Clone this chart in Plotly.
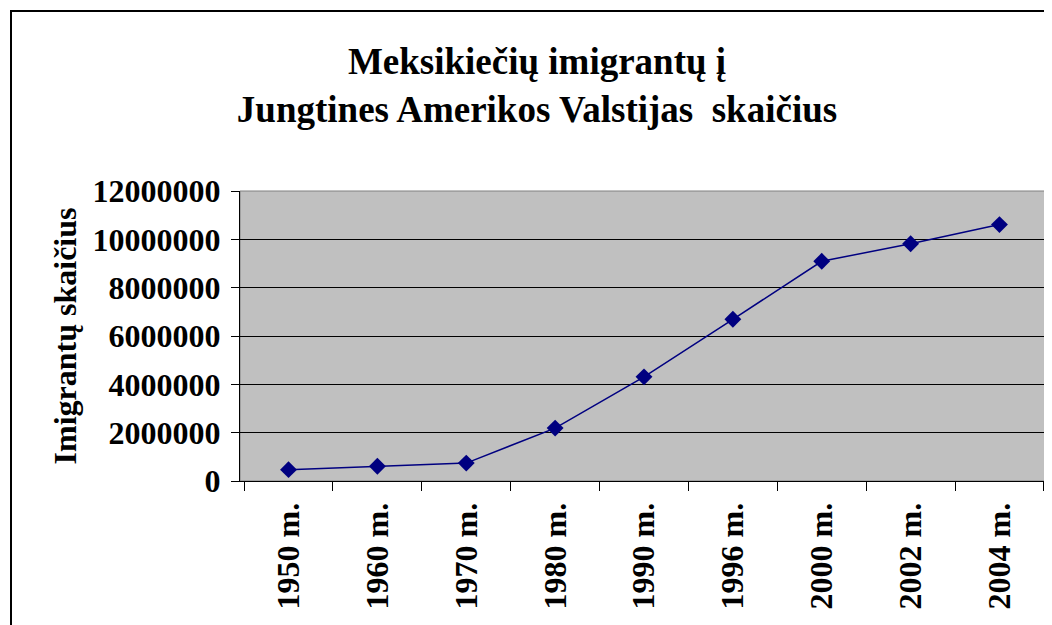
import plotly.graph_objects as go

years = ["1950 m.", "1960 m.", "1970 m.", "1980 m.", "1990 m.",
         "1996 m.", "2000 m.", "2002 m.", "2004 m."]
immigrants = [470000, 610000, 740000, 2190000, 4310000,
              6690000, 9090000, 9820000, 10610000]
y_ticks = [0, 2000000, 4000000, 6000000, 8000000, 10000000, 12000000]

# page has an 8px body margin, so the figure is a bit smaller than the window
W, H = 1044, 617
L, R, T, B = 232, 4, 183, 144

font_fam = "Liberation Serif, Times New Roman, serif"

fig = go.Figure()
fig.add_trace(go.Scatter(
    x=years, y=immigrants,
    mode="lines+markers",
    line=dict(color="#000080", width=1.5),
    marker=dict(symbol="diamond", size=13, color="#000080"),
))

pw = W - L - R
ph = H - T - B
# outer chart frame (left and top edges visible)
fig.add_shape(type="rect", xref="paper", yref="paper",
              x0=(3 - L) / pw, x1=1.2, y0=-1.0, y1=1 + (T - 3) / ph,
              line=dict(color="black", width=2), layer="above")
# plot area border
fig.add_shape(type="rect", xref="paper", yref="paper",
              x0=0, x1=1, y0=0, y1=1,
              line=dict(color="#808080", width=1), layer="below")

fig.update_layout(
    width=W, height=H,
    margin=dict(l=L, r=R, t=T, b=B),
    paper_bgcolor="white",
    plot_bgcolor="#C0C0C0",
    showlegend=False,
    title=dict(
        text="Meksikiečių imigrantų į<br>Jungtines Amerikos Valstijas\u00a0 skaičius",
        x=529 / W, xanchor="center", xref="container",
        y=1 - 66 / H, yanchor="middle", yref="container",
        font=dict(family=font_fam, size=37, color="black", weight="bold"),
    ),
    xaxis=dict(
        type="category",
        tickangle=-90,
        ticks="outside", ticklen=9, tickcolor="black",
        tickson="boundaries",
        ticklabelstandoff=8,
        showline=True, linecolor="black", linewidth=1,
        showgrid=False,
        tickfont=dict(family=font_fam, size=32, color="black", weight="bold"),
    ),
    yaxis=dict(
        range=[0, 12000000],
        tickvals=y_ticks,
        tickformat="d",
        ticks="outside", ticklen=8, tickcolor="black",
        ticklabelstandoff=4,
        showline=True, linecolor="black", linewidth=1,
        showgrid=True, gridcolor="black", gridwidth=1,
        zeroline=False,
        tickfont=dict(family=font_fam, size=32, color="black", weight="bold"),
        title=dict(text="Imigrantų skaičius", standoff=6,
                   font=dict(family=font_fam, size=32, color="black", weight="bold")),
    ),
)

fig.write_html("out.html")
